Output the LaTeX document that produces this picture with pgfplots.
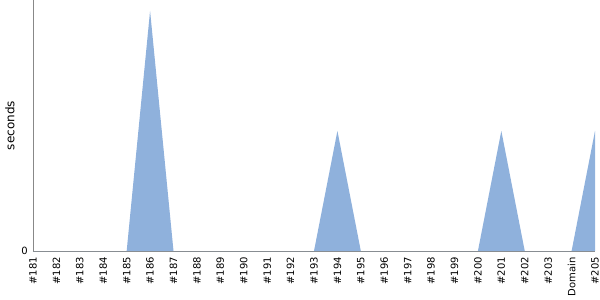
\documentclass[border=0pt]{standalone}
\usepackage{pgfplots}
\pgfplotsset{compat=1.18}
\usepackage{fontspec}
\setmainfont{DejaVu Sans}
\definecolor{areafill}{HTML}{8FB1DC}
\definecolor{axgray}{HTML}{888888}
\begin{document}
\begin{tikzpicture}
\begin{axis}[
  name=ax,
  scale only axis,
  width=562pt, height=251pt,
  xmin=0, xmax=24,
  ymin=0, ymax=2.09,
  axis x line*=bottom,
  axis y line*=left,
  axis line style={axgray, line width=0.8pt},
  xtick={0,...,24},
  xticklabels={\#181,\#182,\#183,\#184,\#185,\#186,\#187,\#188,\#189,\#190,\#191,\#192,\#193,\#194,\#195,\#196,\#197,\#198,\#199,\#200,\#201,\#202,\#203,Domain,\#205},
  xticklabel style={rotate=90, anchor=east, font=\fontsize{10}{11}\selectfont, inner sep=0pt, xshift=-6pt},
  ytick={0},
  yticklabel style={font=\fontsize{10}{11}\selectfont, inner sep=0pt, xshift=-5pt},
  major tick length=0pt,
  tick style={draw=none},
  /pgf/number format/assume math mode=true,
  ylabel={seconds},
  every axis y label/.style={at={([xshift=-23pt]rel axis cs:0,0.5)}, rotate=90, anchor=center, font=\fontsize{12}{13}\selectfont},
  clip=false,
]
\addplot[fill=areafill, draw=none] coordinates {
(0,0) (1,0) (2,0) (3,0) (4,0) (5,2) (6,0) (7,0) (8,0) (9,0) (10,0) (11,0) (12,0)
(13,1) (14,0) (15,0) (16,0) (17,0) (18,0) (19,0) (20,1) (21,0) (22,0) (23,0) (24,1)
} \closedcycle;
\end{axis}
\pgfresetboundingbox
\path (ax.south west) ++(-33pt,-49pt) coordinate (bl);
\path (ax.north east) ++(5pt,0pt) coordinate (tr);
\useasboundingbox (bl) rectangle (tr);
\end{tikzpicture}
\end{document}
